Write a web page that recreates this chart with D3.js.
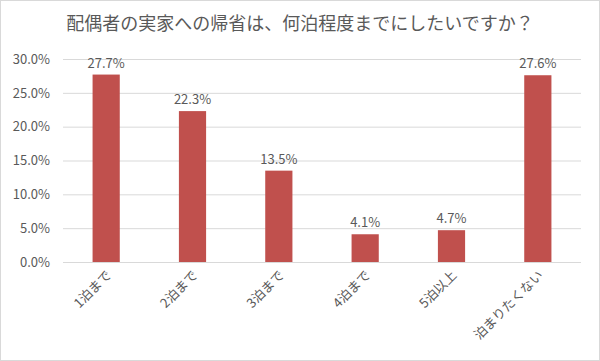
<!DOCTYPE html>
<html><head><meta charset="utf-8">
<script src="https://cdn.jsdelivr.net/npm/d3@7"></script>
<style>body{margin:0;background:#fff}svg{display:block}text{font-family:"Noto Sans CJK JP","Noto Sans",sans-serif;fill:#595959}</style>
</head><body><svg id="c" width="600" height="361"></svg>
<script>
const categories = ["1泊まで","2泊まで","3泊まで","4泊まで","5泊以上","泊まりたくない"];
const values = [27.7, 22.3, 13.5, 4.1, 4.7, 27.6];
const yTicks = [0,5,10,15,20,25,30];
const title = "配偶者の実家への帰省は、何泊程度までにしたいですか？";

const svg = d3.select("#c");
svg.append("rect").attr("x",0.5).attr("y",0.5).attr("width",599).attr("height",360).attr("fill","#fff").attr("stroke","#d9d9d9");
const pL=63,pR=581,pT=59,pB=262;
const x=d3.scaleBand().domain(categories).range([pL,pR]).paddingInner(0.685).paddingOuter(0.3425);
const y=d3.scaleLinear().domain([0,30]).range([pB,pT]);

svg.append("text").attr("x",300).attr("y",30).attr("text-anchor","middle").attr("font-size",18).text(title);

const ya=svg.append("g").attr("transform",`translate(${pL},0)`)
 .call(d3.axisLeft(y).tickValues(yTicks).tickSize(-(pR-pL)).tickPadding(13).tickFormat(d=>d.toFixed(1)+"%"));
ya.select(".domain").remove();
ya.selectAll("line").attr("stroke","#d9d9d9");
ya.selectAll("text").attr("font-size",13).style("fill","#595959");

svg.selectAll(".bar").data(values).join("rect").attr("class","bar")
 .attr("x",(d,i)=>x(categories[i])).attr("width",x.bandwidth())
 .attr("y",d=>y(d)).attr("height",d=>pB-y(d)).attr("fill","#C0504D");

svg.selectAll(".lbl").data(values).join("text").attr("class","lbl")
 .attr("x",(d,i)=>x(categories[i])+x.bandwidth()/2).attr("y",d=>y(d)-7)
 .attr("text-anchor","middle").attr("font-size",13).text(d=>d.toFixed(1)+"%");

svg.selectAll(".xl").data(categories).join("text").attr("class","xl")
 .attr("transform",d=>`translate(${x(d)+x.bandwidth()/2+6},${pB+14}) rotate(-45)`)
 .attr("text-anchor","end").attr("font-size",13).text(d=>d);
</script></body></html>
